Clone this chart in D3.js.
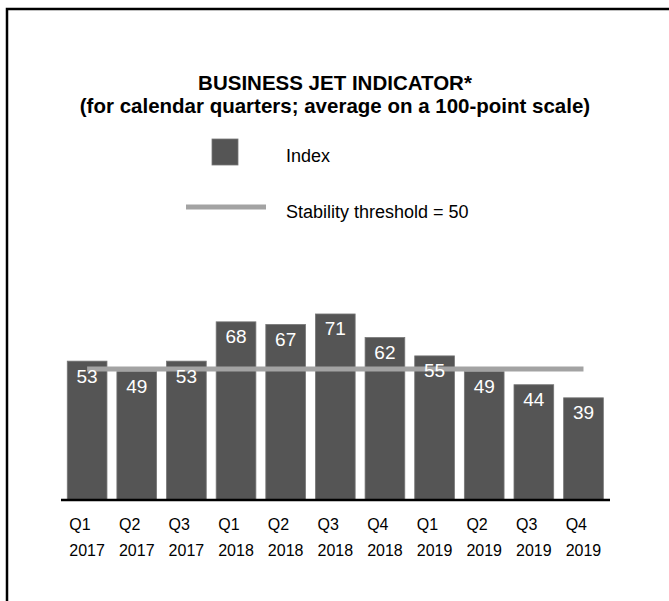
<!DOCTYPE html>
<html>
<head>
<meta charset="utf-8">
<script src="https://cdn.jsdelivr.net/npm/d3@7/dist/d3.min.js"></script>
<style>
  html, body { margin: 0; padding: 0; background: #ffffff; }
  svg { display: block; font-family: "Liberation Sans", Arial, sans-serif; }
</style>
</head>
<body>
<svg id="chart" width="669" height="601"></svg>
<script>
// Quarterly business jet indicator readings
const quarters = ["Q1", "Q2", "Q3", "Q1", "Q2", "Q3", "Q4", "Q1", "Q2", "Q3", "Q4"];
const years = ["2017", "2017", "2017", "2018", "2018", "2018", "2018", "2019", "2019", "2019", "2019"];
const indexValues = [53, 49, 53, 68, 67, 71, 62, 55, 49, 44, 39];
const threshold = 50;
const titleLines = ["BUSINESS JET INDICATOR*", "(for calendar quarters; average on a 100-point scale)"];
const legendLabels = ["Index", "Stability threshold = " + threshold];

const barColor = "#555555";
const lineColor = "#a3a3a3";

const svg = d3.select("#chart");
const keys = indexValues.map((_, i) => i);

const x = d3.scaleBand()
  .domain(keys)
  .range([62.3, 608.3])
  .paddingInner(0.2)
  .paddingOuter(0.1);

const y = d3.scaleLinear()
  .domain([0, 100])
  .range([500, 238]);

// Frame along the top and left edges
svg.append("path")
  .attr("d", "M7,601 V9 H669")
  .attr("fill", "none")
  .attr("stroke", "#000")
  .attr("stroke-width", 2.5);

// Title
svg.append("g")
  .selectAll("text")
  .data(titleLines)
  .join("text")
  .attr("x", 335)
  .attr("y", (d, i) => 89.5 + i * 23)
  .attr("text-anchor", "middle")
  .attr("font-weight", "bold")
  .attr("font-size", 20.5)
  .attr("fill", "#000")
  .text(d => d);

// Legend
const legend = svg.append("g");
legend.append("rect")
  .attr("x", 212).attr("y", 139)
  .attr("width", 26).attr("height", 26)
  .attr("fill", barColor)
  .attr("stroke", "#777").attr("stroke-width", 0.8);
legend.append("line")
  .attr("x1", 186).attr("x2", 266)
  .attr("y1", 207).attr("y2", 207)
  .attr("stroke", lineColor)
  .attr("stroke-width", 5);
legend.selectAll("text")
  .data(legendLabels)
  .join("text")
  .attr("x", 286)
  .attr("y", (d, i) => i === 0 ? 162 : 218)
  .attr("font-size", 18)
  .attr("fill", "#000")
  .text(d => d);

// Bars
svg.append("g")
  .selectAll("rect")
  .data(indexValues)
  .join("rect")
  .attr("x", (d, i) => x(i))
  .attr("y", d => y(d))
  .attr("width", x.bandwidth())
  .attr("height", d => y(0) - y(d))
  .attr("fill", barColor)
  .attr("stroke", "#777")
  .attr("stroke-width", 0.8);

// Stability threshold line, from first to last bar centre
const cx = i => x(i) + x.bandwidth() / 2;
svg.append("line")
  .attr("x1", cx(0))
  .attr("x2", cx(indexValues.length - 1))
  .attr("y1", y(threshold))
  .attr("y2", y(threshold))
  .attr("stroke", lineColor)
  .attr("stroke-width", 5);

// Value labels inside the bars
svg.append("g")
  .selectAll("text")
  .data(indexValues)
  .join("text")
  .attr("x", (d, i) => cx(i))
  .attr("y", d => y(d) + 21.5)
  .attr("text-anchor", "middle")
  .attr("font-size", 19)
  .attr("fill", "#fff")
  .text(d => d);

// Baseline axis
svg.append("line")
  .attr("x1", 61).attr("x2", 610)
  .attr("y1", 500).attr("y2", 500)
  .attr("stroke", "#000")
  .attr("stroke-width", 2.5);

// Category labels: quarter over year, left-aligned as a block centred on the bar
const labels = svg.append("g")
  .selectAll("g")
  .data(keys)
  .join("g");
labels.each(function (i) {
  const g = d3.select(this);
  const yr = g.append("text")
    .attr("y", 555.5)
    .attr("font-size", 16)
    .attr("fill", "#000")
    .text(years[i]);
  const w = yr.node().getComputedTextLength();
  const left = cx(i) - w / 2;
  yr.attr("x", left);
  g.append("text")
    .attr("x", left)
    .attr("y", 529.5)
    .attr("font-size", 16)
    .attr("fill", "#000")
    .text(quarters[i]);
});
</script>
</body>
</html>
